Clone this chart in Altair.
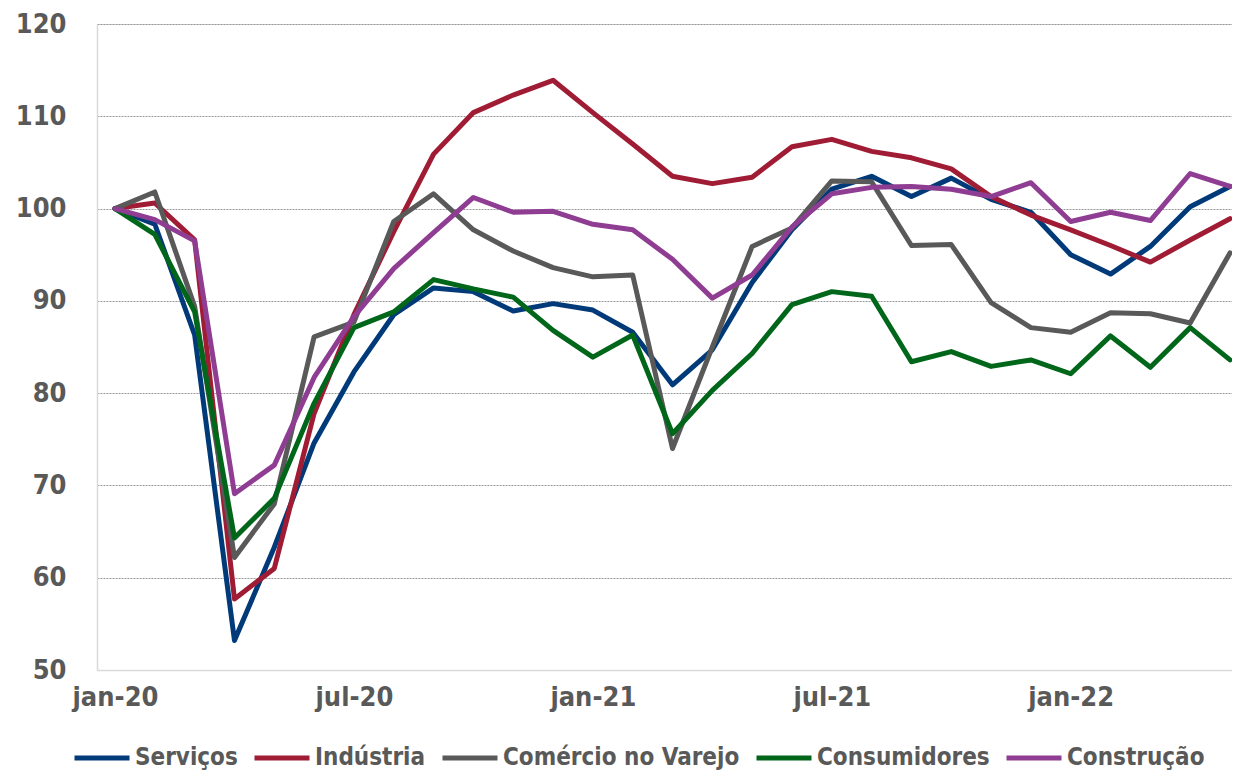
import json
import altair as alt
import pandas as pd

months = ["jan-20", "fev-20", "mar-20", "abr-20", "mai-20", "jun-20", "jul-20", "ago-20",
          "set-20", "out-20", "nov-20", "dez-20", "jan-21", "fev-21", "mar-21", "abr-21",
          "mai-21", "jun-21", "jul-21", "ago-21", "set-21", "out-21", "nov-21", "dez-21",
          "jan-22", "fev-22", "mar-22", "abr-22", "mai-22"]
tick_idx = [0, 6, 12, 18, 24]

series_names = ["Serviços", "Indústria", "Comércio no Varejo", "Consumidores", "Construção"]
colors = ["#003A78", "#A01C35", "#595959", "#00661A", "#8F3D92"]

servicos = [100, 98.3, 86.3, 53.2, 63.3, 74.6, 82.3, 88.5, 91.4, 91.0, 88.9, 89.7, 89.0, 86.6,
            80.9, 84.7, 92.0, 97.7, 102.1, 103.5, 101.3, 103.3, 101.0, 99.6, 95.0, 92.9, 95.9,
            100.2, 102.4]
industria = [100, 100.6, 96.6, 57.7, 61.0, 77.8, 88.5, 97.5, 105.9, 110.4, 112.3, 113.9, 110.4,
             107.0, 103.5, 102.7, 103.4, 106.7, 107.5, 106.2, 105.5, 104.3, 101.3, 99.3, 97.7,
             96.0, 94.2, 96.6, 98.9]
comercio = [100, 101.8, 89.4, 62.2, 68.0, 86.1, 87.7, 98.6, 101.6, 97.7, 95.4, 93.6, 92.6, 92.8,
            74.0, 85.0, 95.9, 97.9, 103.0, 102.9, 96.0, 96.1, 89.8, 87.1, 86.6, 88.7, 88.6,
            87.6, 95.2]
consumidores = [100, 97.2, 88.8, 64.3, 68.6, 78.9, 87.1, 88.8, 92.3, 91.3, 90.4, 86.8, 83.9,
                86.3, 75.6, 80.3, 84.3, 89.6, 91.0, 90.5, 83.4, 84.5, 82.9, 83.6, 82.1, 86.2,
                82.8, 87.1, 83.6]
construcao = [100, 98.8, 96.5, 69.1, 72.2, 81.7, 88.3, 93.5, 97.4, 101.2, 99.6, 99.7, 98.3,
              97.7, 94.5, 90.3, 92.8, 98.0, 101.6, 102.3, 102.4, 102.1, 101.3, 102.8, 98.6,
              99.6, 98.7, 103.8, 102.4]

all_series = [servicos, industria, comercio, consumidores, construcao]
rows = []
for k, (name, vals) in enumerate(zip(series_names, all_series)):
    for i, v in enumerate(vals):
        rows.append({"i": i, "mes": months[i], "serie": name, "ordem": k, "v": v})
df = pd.DataFrame(rows)

FONT = "DejaVu Sans Condensed, DejaVu Sans, sans-serif"
TXT = "#595959"
label_expr = json.dumps(months).replace('"', "'") + "[datum.value]"

chart = alt.Chart(df).mark_line(strokeWidth=5, strokeJoin="round", strokeCap="round").encode(
    x=alt.X("i:Q",
            scale=alt.Scale(domain=[-0.452, 28.05], nice=False, zero=False),
            axis=alt.Axis(values=tick_idx, labelExpr=label_expr, title=None, grid=False,
                          ticks=False, domainColor="#d9d9d9", domainWidth=1.5,
                          labelFontSize=27, labelFont=FONT, labelFontWeight="bold",
                          labelColor=TXT, labelPadding=14)),
    y=alt.Y("v:Q",
            scale=alt.Scale(domain=[50, 120], nice=False, zero=False),
            axis=alt.Axis(values=list(range(50, 121, 10)), title=None, ticks=False, grid=True,
                          gridDash=[2, 1], gridColor="#999999", gridWidth=1,
                          gridOpacity={"condition": {"test": "datum.value === 50", "value": 0},
                                       "value": 1},
                          domainColor="#d9d9d9", domainWidth=1.5,
                          labelFontSize=27, labelFont=FONT, labelFontWeight="bold",
                          labelColor=TXT, labelPadding=31)),
    color=alt.Color("serie:N",
                    scale=alt.Scale(domain=series_names, range=colors),
                    legend=alt.Legend(title=None, orient="none", legendX=-25, legendY=704,
                                      direction="horizontal", columns=5, symbolType="stroke",
                                      symbolSize=3025, symbolStrokeWidth=5,
                                      labelFontSize=24, labelFont=FONT, labelFontWeight="bold",
                                      labelColor=TXT, labelLimit=600, columnPadding=6,
                                      labelOffset=3, padding=0)),
    order=alt.Order("ordem:Q"),
).properties(
    width=1135,
    height=646,
    autosize=alt.AutoSizeParams(type="none"),
    padding={"left": 89, "top": 16, "right": 0, "bottom": 101},
).configure_view(stroke=None).configure(background="white")

chart.save("out.html", embed_options={"renderer": "svg", "actions": False})
